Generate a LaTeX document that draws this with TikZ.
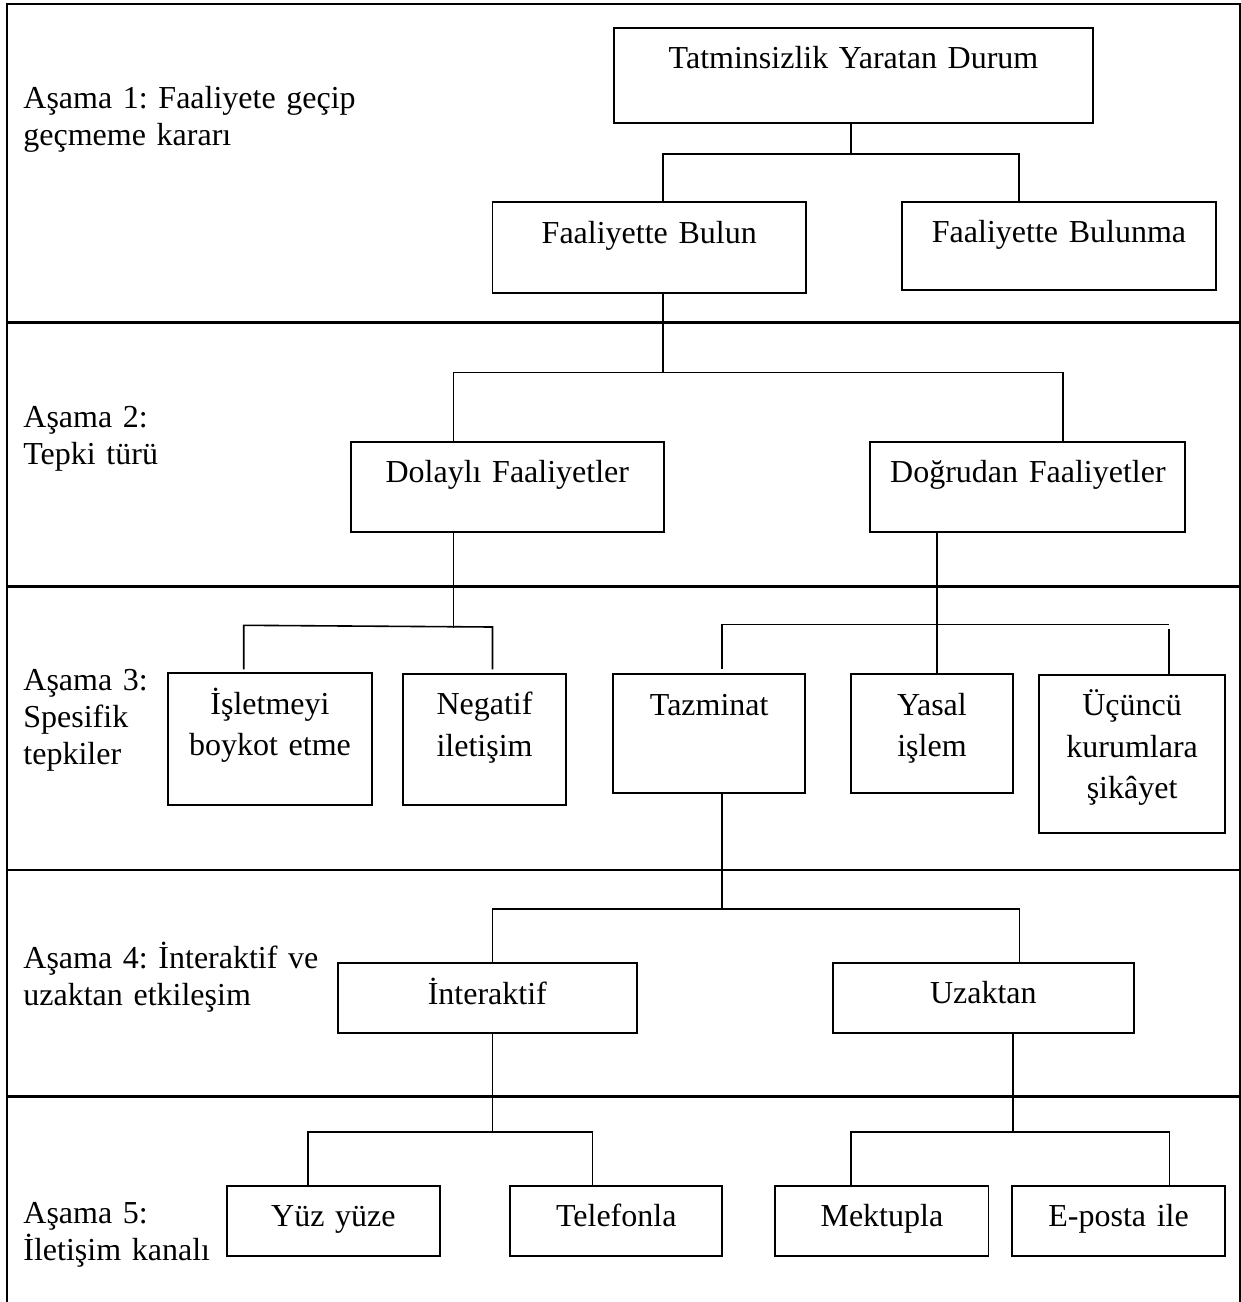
\documentclass[tikz,border=0pt]{standalone}
\usepackage{fontspec}
\setmainfont{Liberation Serif}
\usetikzlibrary{calc}
\frenchspacing

\tikzset{
  frameline/.style={line width=1.4pt},
  boxst/.style={draw, line width=0.95pt, inner sep=0pt, rectangle},
  conn/.style={line width=0.8pt},
  boxtext/.style={inner sep=0pt, align=center, font=\fontsize{16}{20.85}\selectfont},
  stagetext/.style={inner sep=0pt, align=left, text width=200pt, anchor=base west,
    font=\fontsize{16}{18.5}\selectfont},
}

% box with corners (x1,y1),(x2,y2) and its centred text whose first baseline is at y
\newcommand\treebox[7]{%
  \pgfmathsetmacro\tbw{(#4-#2)*0.5}%
  \pgfmathsetmacro\tbh{(#5-#3)*0.5}%
  \node[boxst, minimum width=\tbw pt, minimum height=\tbh pt] (#1) at ({(#2+#4)/2},{(#3+#5)/2}) {};
  \node[boxtext, text width=\tbw pt, anchor=base] (#1-t) at ({(#2+#4)/2},#6) {#7};
}

\begin{document}
\begin{tikzpicture}[x=0.5pt,y=-0.5pt]
\useasboundingbox (0,0) rectangle (1241,1302);

% stage frame
\draw[frameline] (7,1302) -- (7,4) -- (1240,4) -- (1240,1302);
\foreach \yy in {322.7,586.7,870,1096.7}
  \draw[frameline] (7,\yy) -- (1240,\yy);

% stage labels
\node[stagetext] (s1) at (23,108) {Aşama 1: Faaliyete geçip\\geçmeme kararı};
\node[stagetext] (s2) at (23,427) {Aşama 2:\\Tepki türü};
\node[stagetext] (s3) at (23,690) {Aşama 3:\\Spesifik\\tepkiler};
\node[stagetext] (s4) at (23,968) {Aşama 4: İnteraktif ve\\uzaktan etkileşim};
\node[stagetext] (s5) at (23,1223) {Aşama 5:\\İletişim kanalı};

% boxes
\treebox{top}{614}{28.3}{1093}{122.7}{68.3}{Tatminsizlik Yaratan Durum}
\treebox{bulun}{492.5}{202}{806}{293}{243}{Faaliyette Bulun}
\treebox{bulunma}{902}{202}{1216}{290}{242.5}{Faaliyette Bulunma}
\treebox{dolayli}{350.6}{441.7}{664}{531.7}{482.5}{Dolaylı Faaliyetler}
\treebox{dogrudan}{870.4}{441.7}{1185.4}{532.3}{482.5}{Doğrudan Faaliyetler}
\treebox{boykot}{168.4}{673.3}{371.6}{805}{714}{İşletmeyi\\boykot etme}
\treebox{negatif}{403.3}{674.3}{565.8}{805}{714.5}{Negatif\\iletişim}
\treebox{tazminat}{613}{674.3}{805.4}{792.7}{715}{Tazminat}
\treebox{yasal}{851}{674.3}{1013}{792.7}{715}{Yasal\\işlem}
\treebox{ucuncu}{1038.8}{675}{1225.4}{832.7}{715.5}{Üçüncü\\kurumlara\\şikâyet}
\treebox{interaktif}{337.6}{963.3}{637}{1032.7}{1004}{İnteraktif}
\treebox{uzaktan}{832.8}{962.7}{1133.9}{1033.3}{1003.5}{Uzaktan}
\treebox{yuz}{227}{1186}{439.8}{1255.7}{1226.5}{Yüz yüze}
\treebox{telefon}{510.3}{1186}{722.2}{1256}{1226.5}{Telefonla}
\treebox{mektup}{775.3}{1186}{988.5}{1256}{1226.5}{Mektupla}
\treebox{eposta}{1012.2}{1186}{1225}{1256}{1226.5}{E-posta ile}

% stage 1 connectors
\coordinate (j1) at (851,154);
\coordinate (j1l) at (663,154);
\coordinate (j1r) at (1019,154);
\draw[conn] (top.south -| j1) -- (j1);
\draw[conn] (bulun.north -| j1l) -- (j1l) -- (j1r) -- (bulunma.north -| j1r);

% stage 2 connectors
\coordinate (j2) at (663,372.5);
\coordinate (j2l) at (453.6,372.5);
\coordinate (j2r) at (1063,372.5);
\draw[conn] (bulun.south -| j2) -- (j2);
\draw[conn] (dolayli.north -| j2l) -- (j2l) -- (j2r) -- (dogrudan.north -| j2r);

% stage 3 connectors, indirect branch
\coordinate (j3) at (453.6,628);
\coordinate (j3l) at (243.7,625.3);
\coordinate (j3r) at (492.5,627);
\draw[conn] (dolayli.south -| j3) -- (j3);
\draw[conn] ($(boykot.north -| j3l)+(0,-3)$) -- (j3l) -- (j3r) -- ($(negatif.north -| j3r)+(0,-4)$);

% stage 3 connectors, direct branch
\coordinate (j4) at (937,624.3);
\coordinate (j4l) at (722,624.3);
\coordinate (j4r) at (1168.7,624.3);
\draw[conn] (dogrudan.south -| j4) -- (yasal.north -| j4);
\draw[conn] ($(tazminat.north -| j4l)+(0,-4)$) -- (j4l) -- (j4r);
\draw[conn] ($(j4r)+(0,5)$) -- (ucuncu.north -| j4r);

% stage 4 connectors
\coordinate (j5) at (722,909);
\coordinate (j5l) at (492.5,909);
\coordinate (j5r) at (1019.4,909);
\draw[conn] (tazminat.south -| j5) -- (j5);
\draw[conn] (interaktif.north -| j5l) -- (j5l) -- (j5r) -- (uzaktan.north -| j5r);

% stage 5 connectors
\coordinate (j6) at (492.5,1131.7);
\coordinate (j6l) at (308,1131.7);
\coordinate (j6r) at (592.3,1131.7);
\draw[conn] (interaktif.south -| j6) -- (j6);
\draw[conn] (yuz.north -| j6l) -- (j6l) -- (j6r) -- (telefon.north -| j6r);

\coordinate (j7) at (1013,1131.7);
\coordinate (j7l) at (851,1131.7);
\coordinate (j7r) at (1169.5,1131.7);
\draw[conn] (uzaktan.south -| j7) -- (j7);
\draw[conn] (mektup.north -| j7l) -- (j7l) -- (j7r) -- (eposta.north -| j7r);
\end{tikzpicture}
\end{document}
